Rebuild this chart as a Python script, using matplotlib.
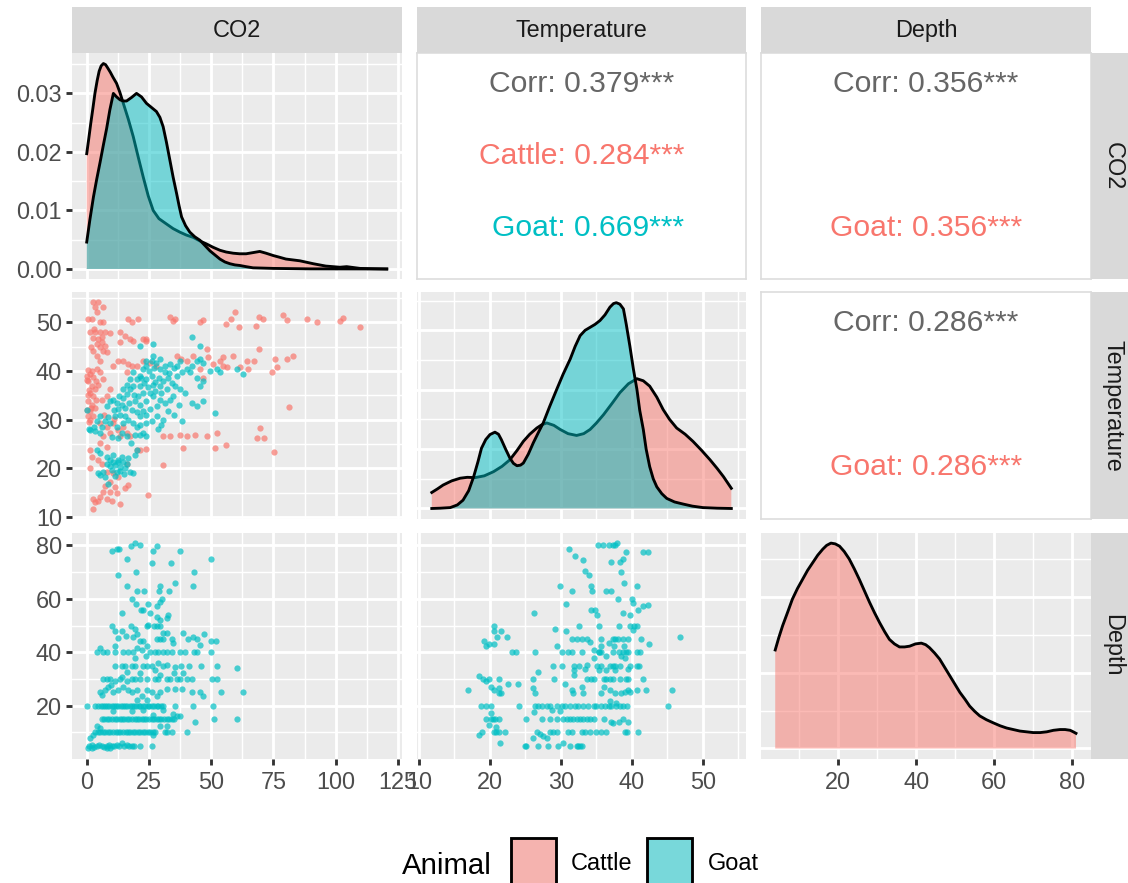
import matplotlib
matplotlib.use("Agg")
import matplotlib.pyplot as plt
from matplotlib.patches import Rectangle

W, H, DPI = 1128, 883, 192
plt.rcParams['font.family'] = ['Liberation Sans', 'DejaVu Sans']

# ---------------- data ----------------
variables = ["CO2", "Temperature", "Depth"]
groups = ["Cattle", "Goat"]
group_colors = {"Cattle": "#F8766D", "Goat": "#00BFC4"}

# diagonal densities (x, density)
co2_x_cattle = [0, 0.8, 1.6, 2.5, 3.3, 4.2, 5, 5.8, 6.7, 7.6, 8.5, 9.5, 10.5, 12, 13.3, 14.7,
                16.7, 18.7, 20.7, 22.7, 24.7, 26.7, 29, 32, 34.7, 37.4, 40, 42.8, 45.4, 48,
                50.8, 53.5, 56, 58.8, 61.4, 64, 66.8, 69.5, 72, 74.9, 77.5, 80, 85.6, 91, 96,
                101.7, 104.4, 109.8, 115, 120.5]
co2_d_cattle = [0.0197, 0.0222, 0.0248, 0.0275, 0.0300, 0.0322, 0.0338, 0.0347, 0.0351, 0.0349,
                0.0343, 0.0336, 0.0328, 0.0317, 0.0302, 0.0283, 0.0256, 0.0226, 0.0191, 0.0157,
                0.0125, 0.0100, 0.0086, 0.0077, 0.0069, 0.0063, 0.0058, 0.0054, 0.0048, 0.0043,
                0.0037, 0.0032, 0.0029, 0.0027, 0.0026, 0.0026, 0.0028, 0.0030, 0.0027, 0.0023,
                0.0020, 0.0017, 0.0014, 0.0009, 0.0005, 0.0003, 0.0004, 0.0001, 0.00005, 0.0]
co2_x_goat = [0, 1.3, 2.7, 4, 5.4, 6.7, 8, 9.3, 10.7, 12, 13.4, 14.7, 16, 18, 20, 22, 24, 26,
              28, 29.4, 30.7, 32, 33.4, 34.7, 36.1, 37.1, 38.1, 39.7, 41.4, 43.4, 45.5, 47.5,
              49.5, 51.5, 53.5, 55.5, 57.5, 59.5, 61.5, 64, 66.8, 75, 90, 120.5]
co2_d_goat = [0.0046, 0.0085, 0.0123, 0.0153, 0.0183, 0.0212, 0.0240, 0.0272, 0.0300, 0.0294,
              0.0289, 0.0287, 0.0287, 0.0293, 0.0300, 0.0294, 0.0283, 0.0276, 0.0269, 0.0259,
              0.0243, 0.0217, 0.0186, 0.0157, 0.0129, 0.0108, 0.0089, 0.0074, 0.0063, 0.0055,
              0.0049, 0.0040, 0.0031, 0.0024, 0.0017, 0.0012, 0.0009, 0.0007, 0.0006, 0.0004,
              0.0002, 0.0001, 0.00002, 0.0]

temp_x_cattle = [11.8, 12.6, 13.4, 14.6, 15.8, 16.8, 17.9, 19.2, 20.5, 21.7, 22.8, 23.8, 24.7,
                 25.6, 26.6, 27.3, 28, 29, 29.9, 31, 32.2, 33.2, 34.1, 35, 36, 37.2, 38.3, 39.5,
                 40.7, 41.6, 42.5, 43.5, 44.4, 45.3, 46.3, 47.5, 48.6, 49.8, 51, 52, 52.9, 54]
temp_d_cattle = [0.0054, 0.0066, 0.0079, 0.0093, 0.0102, 0.0105, 0.0104, 0.0110, 0.0124, 0.0142,
                 0.0164, 0.0195, 0.0226, 0.0250, 0.0271, 0.0282, 0.0288, 0.0280, 0.0266, 0.0252,
                 0.0246, 0.0252, 0.0266, 0.0288, 0.0316, 0.0354, 0.0390, 0.0420, 0.0437, 0.0430,
                 0.0412, 0.0375, 0.0333, 0.0300, 0.0271, 0.0250, 0.0226, 0.0196, 0.0164, 0.0135,
                 0.0107, 0.0068]
temp_x_goat = [11.8, 13, 14.4, 15.4, 16.2, 17, 17.7, 18.3, 18.8, 19.4, 20, 20.7, 21.2, 21.6,
               22.2, 22.8, 23.3, 23.8, 24.3, 24.7, 25.4, 26.1, 26.8, 27.5, 28.4, 29.4, 30.3,
               31.3, 32, 32.7, 33.4, 34.1, 34.8, 35.5, 36.2, 36.9, 37.4, 37.8, 38.3, 38.8, 39.2,
               39.7, 40.2, 40.7, 41.1, 41.6, 42, 42.5, 43, 43.5, 44.2, 44.9, 46, 47.2, 48.5,
               50, 52, 54]
temp_d_goat = [0.0, 0.0001, 0.0003, 0.0012, 0.0028, 0.0060, 0.0107, 0.0157, 0.0203, 0.0232,
               0.0249, 0.0257, 0.0250, 0.0232, 0.0200, 0.0170, 0.0152, 0.0144, 0.0146, 0.0153,
               0.0183, 0.0221, 0.0255, 0.0288, 0.0343, 0.0401, 0.0452, 0.0503, 0.0546, 0.0582,
               0.0600, 0.0610, 0.0620, 0.0633, 0.0652, 0.0678, 0.0690, 0.0693, 0.0688, 0.0672,
               0.0620, 0.0548, 0.0470, 0.0401, 0.0330, 0.0266, 0.0200, 0.0141, 0.0100, 0.0073,
               0.0050, 0.0034, 0.0022, 0.0015, 0.0008, 0.0003, 0.0001, 0.0]

depth_x = [3.8, 4.7, 5.7, 7, 8.2, 9.5, 10.8, 12.1, 13.4, 14.7, 16, 17, 18.1, 19.2, 20.3, 21.5,
           22.8, 24.1, 25.4, 26.7, 28, 29.3, 30.6, 31.9, 33.1, 34.4, 35.7, 37, 38.3, 39.8, 41.3,
           42.4, 43.4, 44.7, 46, 47.3, 48.6, 49.9, 51.2, 52.5, 53.7, 55, 56.3, 58, 59.7, 61.5,
           63.2, 64.9, 66.6, 68.3, 70, 71.8, 73.5, 75.2, 76.9, 78.2, 79.5, 80.3, 81]
depth_d = [0.0130, 0.0146, 0.0162, 0.0180, 0.0197, 0.0211, 0.0223, 0.0235, 0.0245, 0.0255,
           0.0263, 0.0268, 0.0271, 0.0270, 0.0267, 0.0260, 0.0250, 0.0237, 0.0223, 0.0208,
           0.0193, 0.0179, 0.0166, 0.0154, 0.0144, 0.0138, 0.0134, 0.0134, 0.0135, 0.0138,
           0.0139, 0.0137, 0.0133, 0.0126, 0.0118, 0.0107, 0.0096, 0.0085, 0.0074, 0.0065,
           0.0056, 0.0049, 0.0043, 0.0038, 0.0034, 0.0030, 0.0027, 0.0025, 0.0023, 0.0022,
           0.0021, 0.0021, 0.0022, 0.0024, 0.0025, 0.0025, 0.0024, 0.0022, 0.0020]

# scatter: CO2 vs Temperature
cattle_co2_temp = [
    (2.7, 54.1), (4.7, 54.1), (3.3, 53.1), (6.7, 53.1), (4.0, 52.1), (0.7, 50.6), (2.0, 50.6),
    (5.4, 50.0), (6.7, 50.0), (1.3, 47.9), (3.3, 47.9), (5.4, 47.9), (7.4, 47.9), (9.4, 47.8),
    (2.7, 46.7), (4.7, 46.6), (6.0, 45.9), (4.0, 45.5), (5.4, 44.8), (2.7, 44.1), (6.7, 44.1),
    (8.0, 43.8), (4.0, 43.1), (5.4, 42.1), (3.0, 48.5), (6.2, 47.0), (1.8, 45.0), (7.5, 45.2),
    (13.4, 47.9), (15.4, 47.2), (17.4, 46.6), (18.7, 46.2), (16.7, 50.7), (18.1, 50.0),
    (20.7, 50.6), (23.7, 46.2), (13.4, 45.9),
    (0.0, 39.0), (1.3, 39.3), (2.7, 38.8), (0.7, 37.9), (2.0, 36.9), (3.3, 36.2), (1.3, 35.5),
    (2.7, 34.8), (0.7, 33.8), (2.0, 33.1), (3.3, 32.4), (1.3, 31.7), (0.7, 30.7), (2.7, 30.7),
    (0.3, 38.2), (1.0, 36.0), (0.5, 35.0), (1.8, 32.5), (0.2, 32.0), (1.5, 30.0), (0.8, 29.5),
    (3.8, 38.0), (2.3, 40.0), (0.4, 40.2), (3.6, 34.0),
    (4.0, 40.3), (5.4, 39.7), (6.7, 38.3), (4.7, 37.2), (6.0, 34.1), (8.0, 34.8), (9.4, 36.2),
    (10.7, 41.0), (12.7, 42.1), (14.7, 42.1), (16.4, 41.4), (18.0, 41.0), (20.0, 41.0),
    (22.8, 42.1), (25.4, 41.7), (28.0, 41.0), (16.0, 39.7),
    (5.4, 29.3), (8.0, 28.6), (10.7, 29.3), (12.7, 27.9), (14.7, 28.6), (16.0, 27.2), (9.4, 27.2),
    (6.7, 26.6), (13.4, 26.6), (17.4, 26.6), (5.4, 25.2), (8.0, 24.5), (11.0, 30.2), (7.0, 31.0),
    (1.3, 23.8), (2.0, 22.4), (1.3, 20.0), (4.7, 21.7), (6.0, 21.0), (8.0, 19.3), (10.7, 19.0),
    (12.7, 18.3), (9.4, 17.2), (11.4, 16.2), (9.4, 15.2), (6.7, 15.2), (5.4, 14.1), (2.7, 13.8),
    (3.3, 13.1), (4.7, 13.4), (8.0, 13.8), (10.0, 13.4), (13.4, 12.8), (2.7, 11.7), (15.4, 15.9),
    (16.7, 16.6), (20.0, 23.8), (21.4, 23.8), (23.8, 23.9), (24.8, 14.5), (30.5, 20.7),
    (16.0, 21.0), (7.2, 16.5), (12.0, 15.0),
    (33.5, 51.0), (34.8, 50.3), (35.5, 50.6), (45.5, 50.0), (46.9, 50.5), (55.8, 49.7),
    (57.8, 50.6), (59.7, 52.1), (61.0, 49.0), (68.0, 49.3), (69.3, 51.0), (70.7, 50.6),
    (78.9, 51.4), (80.3, 50.5), (88.4, 50.7), (92.4, 50.0), (101.7, 50.2), (103.0, 50.8),
    (109.8, 49.0),
    (22.8, 46.6), (24.0, 46.6), (36.1, 43.1), (38.0, 42.4), (40.2, 42.1), (42.8, 43.1),
    (48.2, 44.5), (48.9, 42.8), (53.5, 42.1), (54.9, 42.8), (58.9, 43.1), (64.3, 42.1),
    (67.0, 42.1), (69.0, 44.5), (75.6, 42.4), (76.3, 40.7), (80.3, 42.4), (83.0, 43.1),
    (61.6, 40.7), (64.9, 40.3), (50.9, 41.4), (54.9, 41.0), (56.2, 40.7), (45.5, 40.3),
    (74.3, 39.7), (46.9, 38.6), (81.4, 32.6),
    (30.8, 26.6), (33.5, 26.7), (37.5, 26.9), (40.2, 26.6), (43.5, 26.8), (48.2, 26.7),
    (52.2, 27.2), (38.8, 24.1), (51.5, 24.1), (56.0, 24.8), (68.3, 26.2), (69.6, 28.3),
    (71.0, 26.2), (75.2, 23.3),
]
goat_co2_temp = [
    (4.0, 23.8), (5.4, 23.1), (4.7, 19.0), (6.7, 19.3), (8.0, 21.0), (9.4, 21.7), (10.7, 21.4),
    (11.4, 20.7), (12.7, 21.4), (13.4, 20.3), (14.7, 21.4), (16.0, 21.0), (15.4, 20.0),
    (17.4, 19.3), (18.7, 19.1), (8.0, 22.4), (10.0, 19.7), (12.0, 19.3), (14.0, 22.4),
    (16.7, 22.1), (10.7, 22.8), (7.4, 18.3), (8.7, 16.9), (5.4, 18.6), (19.3, 22.8), (20.0, 23.8),
    (12.5, 21.8), (11.5, 18.5), (15.0, 18.8), (13.5, 19.5), (9.5, 20.5),
    (0.0, 31.9), (1.3, 27.9), (3.3, 27.6), (5.4, 27.2), (4.0, 29.7), (5.4, 30.7), (8.0, 32.8),
    (9.4, 33.8), (10.7, 34.1), (12.0, 33.4), (12.7, 32.1), (14.0, 33.1), (14.7, 34.5),
    (16.0, 35.2), (13.4, 31.0), (15.4, 30.7), (11.4, 30.7), (9.4, 29.3), (7.4, 29.7),
    (12.0, 28.6), (14.7, 29.3), (16.7, 30.0), (18.7, 29.3), (20.0, 28.6), (21.4, 29.0),
    (24.0, 29.3), (26.1, 29.7), (38.2, 29.7), (30.8, 30.0), (21.4, 26.9), (22.8, 27.2),
    (19.4, 26.9), (17.6, 25.2), (16.0, 26.6), (14.0, 27.2), (12.7, 26.2), (24.0, 26.6),
    (17.4, 36.2), (18.7, 36.9), (20.0, 38.3), (21.4, 39.0), (22.8, 40.3), (24.0, 41.0),
    (26.1, 42.1), (28.0, 41.7), (29.4, 40.3), (31.5, 39.7), (32.8, 38.6), (34.1, 37.6),
    (35.5, 36.9), (37.5, 36.2), (39.5, 35.5), (32.1, 36.2), (29.4, 36.9), (26.8, 37.2),
    (24.8, 36.6), (22.8, 35.5), (20.7, 34.8), (19.4, 33.8), (21.4, 33.1), (24.0, 33.8),
    (26.8, 34.8), (29.4, 34.1), (31.5, 33.4), (33.5, 34.1), (28.1, 32.8), (25.4, 32.1),
    (22.8, 31.7), (21.4, 30.7), (24.0, 31.0), (28.1, 30.7), (34.8, 34.8), (36.1, 39.0),
    (38.2, 39.7), (40.2, 40.3), (42.2, 41.0), (44.2, 42.1), (41.6, 39.7), (44.2, 38.6),
    (45.5, 36.9), (46.9, 37.9), (49.4, 40.0), (52.2, 40.3), (53.5, 39.7), (60.2, 40.3),
    (62.7, 39.3), (42.2, 33.4), (44.2, 32.8), (46.9, 33.8), (51.5, 31.4), (42.2, 46.9),
    (45.5, 45.2), (26.8, 45.5), (21.4, 45.2), (24.0, 42.1), (26.8, 43.1), (29.4, 42.4),
    (31.5, 41.0), (33.5, 41.4), (18.7, 39.7), (17.4, 38.3), (16.0, 37.2), (14.7, 36.2),
    (26.1, 39.0), (29.0, 38.6), (24.0, 38.3), (21.4, 36.9), (27.4, 35.9), (36.1, 41.0),
    (37.5, 42.1), (46.9, 41.7), (45.5, 42.4),
    (19.0, 35.0), (23.0, 37.5), (25.5, 35.5), (27.5, 37.8), (30.0, 35.5), (18.0, 32.0),
    (20.0, 31.5), (22.0, 38.5), (25.0, 40.0), (27.0, 40.5), (30.5, 38.0), (33.0, 39.5),
    (35.0, 40.5), (17.0, 33.5), (15.5, 32.5), (13.0, 34.8), (11.0, 32.0), (8.5, 30.5),
    (6.0, 28.5), (3.0, 28.5), (1.0, 28.0), (10.0, 26.5), (30.0, 29.0), (35.0, 31.0),
    (32.5, 31.8), (37.0, 33.0), (28.5, 28.0),
]

# scatter: CO2 vs Depth (goat only)
goat_co2_depth = [
    (10.0, 77.8), (12.0, 78.6), (13.0, 78.6), (16.0, 74.9), (17.7, 79.9), (19.4, 80.9),
    (21.2, 80.3), (28.4, 79.9), (26.8, 77.8), (26.1, 73.6), (33.7, 73.6), (37.5, 77.8),
    (49.8, 74.9), (12.7, 69.0), (19.7, 69.9), (43.1, 69.9), (35.5, 65.9), (42.6, 64.9),
    (16.0, 64.9), (20.0, 63.0), (23.0, 63.0), (29.2, 63.0), (33.2, 63.0), (29.4, 64.9),
    (14.3, 54.9), (18.2, 59.9), (19.8, 58.0), (24.8, 58.0), (28.1, 57.2), (29.4, 58.7),
    (30.1, 59.9), (21.7, 56.0), (22.8, 56.0), (25.4, 54.9), (28.1, 53.2), (32.1, 52.8),
    (32.8, 54.0), (29.4, 52.2), (10.0, 49.7), (11.4, 48.1), (14.0, 48.1), (17.9, 49.7),
    (19.3, 48.7), (20.0, 46.8), (24.1, 49.7), (24.8, 50.3), (27.0, 49.7), (28.1, 49.7),
    (29.4, 49.7), (30.8, 47.2), (32.1, 47.2), (12.7, 45.3), (15.8, 46.2), (18.7, 45.9),
    (21.4, 44.3), (22.5, 44.3), (24.1, 42.2), (28.1, 45.0), (29.4, 45.0), (30.8, 45.0),
    (34.1, 45.0), (34.8, 43.5), (38.8, 47.2), (40.8, 45.0), (42.6, 45.7), (44.2, 45.0),
    (47.1, 46.8), (49.8, 44.1), (51.9, 44.1), (45.5, 42.8),
    (4.0, 40.0), (5.4, 41.8), (6.7, 40.0), (8.3, 40.0), (11.4, 40.0), (14.7, 40.0), (16.7, 40.0),
    (18.7, 40.0), (20.1, 41.6), (22.1, 40.9), (23.7, 38.7), (25.4, 40.0), (27.4, 40.0),
    (28.8, 40.0), (30.8, 40.0), (32.1, 40.0), (34.1, 40.0), (37.5, 40.0), (39.5, 40.0),
    (43.2, 40.0), (44.2, 40.0), (49.8, 40.0), (19.4, 37.8), (11.4, 42.2),
    (11.4, 35.0), (14.0, 35.0), (15.4, 35.0), (18.1, 35.0), (19.4, 35.0), (22.8, 35.0),
    (24.1, 35.0), (26.1, 35.0), (28.8, 36.0), (30.8, 35.0), (32.1, 35.3), (35.5, 34.4),
    (37.9, 35.0), (41.1, 35.0), (45.9, 35.0), (52.4, 35.0), (60.5, 34.1), (16.1, 32.8),
    (21.4, 32.2), (27.4, 33.4), (14.0, 30.9), (29.4, 31.6), (34.9, 32.2), (38.8, 32.2),
    (6.7, 30.0), (8.0, 30.0), (9.4, 30.0), (11.4, 29.1), (13.4, 30.0), (16.0, 29.1), (18.1, 30.0),
    (19.4, 30.0), (21.2, 30.0), (24.1, 30.0), (27.4, 30.0), (28.8, 30.0), (32.1, 30.0),
    (33.5, 30.0), (36.1, 30.0), (37.5, 30.0), (40.2, 30.0), (42.2, 30.0), (50.5, 30.0),
    (52.4, 30.0),
    (5.4, 25.0), (7.4, 26.0), (8.7, 27.2), (10.7, 25.0), (12.7, 26.0), (14.7, 27.2), (16.7, 26.0),
    (18.1, 25.0), (20.0, 26.0), (22.1, 23.5), (24.1, 26.0), (26.1, 25.0), (28.1, 23.5),
    (29.4, 25.3), (32.1, 26.2), (35.5, 26.2), (38.2, 26.2), (42.2, 25.0), (45.5, 25.0),
    (46.6, 23.7), (53.8, 25.0), (62.7, 25.0), (9.6, 27.8), (6.3, 24.2),
    (0.0, 20.0), (3.3, 20.0), (4.7, 20.0), (5.6, 20.0), (6.5, 20.0), (7.2, 20.0), (8.3, 20.0),
    (9.0, 20.0), (10.1, 20.0), (10.8, 20.0), (11.9, 20.0), (12.6, 20.0), (13.7, 20.0),
    (14.4, 20.0), (15.5, 20.0), (16.2, 20.0), (17.3, 20.0), (18.0, 20.0), (19.1, 20.0),
    (19.8, 20.0), (20.9, 20.0), (21.6, 20.0), (22.7, 20.0), (23.4, 20.0), (24.5, 20.0),
    (25.2, 20.0), (26.3, 20.0), (27.0, 20.0), (28.1, 20.0), (28.8, 20.0), (29.9, 20.0),
    (30.6, 20.0), (35.5, 20.0), (42.6, 20.0), (50.6, 20.0),
    (20.0, 22.2), (24.1, 22.2), (10.7, 17.9), (18.1, 17.9), (22.8, 18.5), (26.8, 16.6),
    (30.8, 18.5), (34.8, 17.0), (36.1, 16.0),
    (6.2, 15.0), (7.0, 15.0), (8.1, 15.0), (9.0, 15.0), (10.1, 15.0), (11.2, 15.0), (12.0, 15.0),
    (13.2, 15.0), (14.1, 15.0), (15.0, 15.0), (16.2, 15.0), (17.1, 15.0), (18.0, 15.0),
    (19.2, 15.0), (20.1, 15.0), (21.0, 15.0), (22.2, 15.0), (23.1, 15.0), (24.0, 15.0),
    (25.2, 15.0), (26.1, 15.0), (27.0, 15.0), (28.2, 15.0), (29.1, 15.0), (30.0, 15.0),
    (31.2, 15.0), (32.1, 15.0), (33.0, 15.0), (34.2, 15.0), (35.1, 15.0), (37.5, 16.0),
    (43.5, 14.1), (51.3, 15.0), (60.5, 15.0),
    (4.0, 12.3), (5.4, 11.6), (29.4, 12.3), (32.1, 12.3),
    (3.3, 10.0), (4.5, 10.0), (5.4, 10.0), (6.5, 10.0), (7.4, 10.0), (8.5, 10.0), (9.4, 10.0),
    (10.5, 10.0), (11.6, 10.0), (12.7, 10.0), (13.4, 10.0), (14.5, 10.0), (15.6, 10.0),
    (16.5, 10.0), (17.5, 10.0), (18.6, 10.0), (19.5, 10.0), (20.5, 10.0), (21.6, 10.0),
    (22.5, 10.0), (23.5, 10.0), (24.6, 10.0), (25.5, 10.0), (26.5, 10.0), (27.4, 10.0),
    (31.3, 10.0), (32.1, 10.0), (34.2, 10.0), (40.4, 10.0),
    (1.3, 7.9), (2.7, 9.1), (26.8, 9.1),
    (1.1, 5.0), (2.0, 5.5), (3.1, 4.5), (4.0, 5.0), (5.1, 5.5), (6.0, 5.0), (6.8, 4.5), (8.0, 5.0),
    (9.1, 5.5), (10.0, 5.0), (11.1, 5.0), (12.0, 5.5), (13.1, 5.0), (14.1, 6.0), (15.0, 5.0),
    (16.1, 5.5), (17.1, 5.0), (18.1, 5.0), (19.1, 5.0), (21.4, 5.0), (26.1, 5.0),
    (0.7, 4.2), (2.0, 4.2), (8.0, 4.2), (9.4, 4.2),
]

# scatter: Temperature vs Depth (goat only)
goat_temp_depth = [
    (31.2, 78.6), (32.0, 76.1), (33.1, 74.6), (35.2, 80.0), (35.9, 80.0), (36.7, 80.0),
    (37.3, 80.0), (37.6, 80.2), (37.9, 80.9), (37.1, 73.8), (38.3, 73.8), (38.7, 74.9),
    (39.2, 77.5), (41.6, 77.5), (42.3, 77.5), (33.4, 70.3), (33.9, 69.0), (38.4, 69.9),
    (29.8, 64.9), (31.6, 62.8), (34.2, 64.9), (34.4, 62.8), (36.3, 62.8), (37.1, 62.8),
    (38.9, 65.9), (40.7, 64.9), (38.1, 59.9), (40.0, 59.9), (40.2, 58.4), (41.5, 57.4),
    (42.2, 57.8), (40.9, 55.9), (30.7, 58.2), (26.2, 54.9), (34.2, 55.9), (34.8, 55.9),
    (38.8, 54.9), (39.7, 54.0), (35.1, 54.0), (35.4, 49.7), (32.6, 49.7), (29.1, 48.7),
    (30.7, 48.1), (39.7, 49.7), (40.3, 49.7), (40.7, 49.7), (40.1, 48.4), (38.2, 49.7),
    (20.6, 49.7), (20.5, 47.8), (21.6, 47.8), (21.0, 45.9), (22.4, 45.9), (19.1, 44.3),
    (19.5, 42.2), (19.8, 43.2), (20.6, 43.1), (46.8, 45.9),
    (31.5, 45.0), (32.2, 45.0), (32.9, 45.0), (33.6, 45.0), (34.1, 43.7), (35.7, 45.0),
    (37.3, 45.0), (37.6, 45.0), (38.1, 45.0), (38.8, 45.0), (39.5, 45.0), (41.3, 45.0),
    (36.8, 43.5), (37.5, 42.2), (38.9, 42.4), (42.4, 43.1), (29.4, 42.2), (34.6, 41.0),
    (35.3, 40.3), (35.7, 42.2),
    (23.1, 40.0), (23.7, 40.0), (26.3, 40.0), (30.1, 40.0), (31.0, 40.0), (31.5, 40.0),
    (32.9, 40.0), (35.3, 40.0), (35.7, 40.0), (37.4, 40.0), (38.2, 40.0), (38.8, 40.0),
    (39.2, 40.0), (39.5, 40.0), (40.7, 40.0), (41.1, 40.0), (34.6, 37.8), (36.4, 38.5),
    (38.5, 38.5), (39.0, 37.8),
    (28.9, 35.0), (30.2, 35.0), (31.9, 35.0), (32.6, 35.0), (33.6, 35.3), (35.1, 35.0),
    (35.7, 35.0), (36.9, 35.0), (37.3, 35.0), (37.6, 35.0), (38.3, 35.0), (39.7, 35.0),
    (40.7, 35.0), (41.0, 35.0), (26.7, 32.8), (31.8, 33.4), (33.4, 33.7), (35.3, 33.4),
    (36.4, 33.4), (37.6, 33.4), (39.5, 33.7), (31.8, 31.6),
    (18.4, 31.0), (19.0, 30.0), (19.9, 30.0), (21.2, 30.0), (24.0, 28.1), (26.1, 30.0),
    (29.0, 30.0), (33.6, 30.0), (34.3, 30.0), (34.7, 30.0), (36.0, 30.0), (36.4, 30.0),
    (36.9, 30.0), (37.4, 30.0), (38.3, 30.0), (39.2, 30.0), (39.5, 30.0), (41.5, 30.0),
    (19.5, 29.1), (20.1, 27.2), (20.6, 26.0), (21.2, 24.7), (21.6, 24.7), (22.6, 28.2),
    (21.3, 26.6), (16.9, 26.0), (26.1, 26.6), (26.3, 24.7), (30.6, 28.2), (31.5, 26.0),
    (32.9, 27.2), (36.0, 27.2), (36.9, 26.0), (37.6, 24.7), (38.4, 24.7), (39.0, 25.0),
    (39.5, 26.0), (39.7, 25.0), (40.7, 26.0), (42.0, 26.0), (45.7, 26.0), (31.7, 24.7),
    (33.1, 24.7), (35.6, 24.7),
    (18.7, 20.0), (19.5, 20.0), (20.1, 20.0), (24.1, 20.0), (26.3, 20.0), (26.8, 20.0),
    (27.3, 20.0), (28.0, 20.0), (28.5, 20.0), (29.4, 20.0), (30.1, 20.0), (30.6, 20.0),
    (31.3, 20.0), (32.0, 20.0), (32.4, 20.0), (33.1, 20.0), (33.8, 20.0), (34.6, 20.0),
    (35.0, 20.0), (35.7, 20.0), (36.2, 20.0), (36.7, 20.0), (37.1, 20.0), (37.7, 20.0),
    (38.3, 20.0), (38.8, 20.0), (39.3, 20.0), (45.1, 20.0), (37.8, 21.0), (36.9, 21.6),
    (28.8, 18.5), (29.9, 17.9), (26.2, 17.5), (20.1, 17.3), (20.4, 15.0),
    (19.5, 15.0), (20.2, 15.0), (20.7, 15.0), (21.2, 15.0), (25.1, 15.0), (27.3, 15.0),
    (28.5, 15.0), (29.4, 15.0), (30.3, 15.0), (30.8, 15.0), (31.3, 15.0), (31.7, 15.0),
    (32.2, 15.0), (32.7, 15.0), (33.1, 15.0), (33.6, 15.0), (34.1, 15.0), (34.6, 15.0),
    (36.0, 15.0), (37.1, 14.1), (37.4, 13.5), (38.2, 14.1), (38.8, 15.0), (39.5, 13.8),
    (19.9, 12.9), (20.8, 12.0),
    (18.4, 9.1), (18.9, 10.0), (20.5, 10.0), (20.8, 10.0), (21.2, 10.0), (22.1, 10.0),
    (21.4, 6.0), (26.6, 10.0), (27.0, 9.5), (27.5, 8.8), (28.0, 7.9), (28.5, 10.0), (28.9, 10.0),
    (29.4, 10.0), (31.0, 10.0), (31.5, 10.0), (32.9, 10.0), (33.4, 10.0), (34.1, 10.0),
    (35.0, 10.0), (35.7, 10.0), (36.4, 10.0), (39.0, 10.0), (39.3, 10.0), (40.8, 10.0),
    (26.0, 7.9),
    (24.9, 5.0), (25.1, 5.0), (26.7, 5.0), (28.2, 5.0), (29.6, 5.0), (31.3, 5.0), (32.2, 5.0),
    (32.4, 5.0), (32.7, 5.0), (32.9, 5.0), (30.3, 6.0),
]

corr_overall = {(0, 1): "Corr: 0.379***", (0, 2): "Corr: 0.356***", (1, 2): "Corr: 0.286***"}
corr_groups = {
    (0, 1): [("Cattle: 0.284***", "#F8766D", 0), ("Goat: 0.669***", "#00BFC4", 1)],
    (0, 2): [("Goat: 0.356***", "#F8766D", 1)],
    (1, 2): [("Goat: 0.286***", "#F8766D", 1)],
}

# ---------------- layout ----------------
fig = plt.figure(figsize=(W / DPI, H / DPI), dpi=DPI)
fig.patch.set_facecolor("white")

col_x = [(71.7, 401.7), (416.8, 746.3), (761.0, 1091.0)]
row_y = [(53.0, 279.3), (292.3, 518.8), (532.5, 758.8)]

var_lim = {"CO2": (-6.03, 126.5), "Temperature": (9.69, 56.11), "Depth": (0.15, 84.85)}
var_major = {"CO2": [0, 25, 50, 75, 100, 125], "Temperature": [10, 20, 30, 40, 50],
             "Depth": [20, 40, 60, 80]}
var_minor = {"CO2": [12.5, 37.5, 62.5, 87.5, 112.5], "Temperature": [15, 25, 35, 45, 55],
             "Depth": [10, 30, 50, 70]}
dens_lim = [(-0.00176, 0.0369), (-0.00347, 0.0728), (-0.00136, 0.0285)]
dens_major = [[0, 0.01, 0.02, 0.03], [0, 0.02, 0.04, 0.06], [0, 0.01, 0.02]]
dens_minor = [[0.005, 0.015, 0.025, 0.035], [0.01, 0.03, 0.05, 0.07], [0.005, 0.015, 0.025]]

PANEL_BG = "#EBEBEB"
TICK_COL = "#333333"
LABEL_COL = "#4D4D4D"
FS_AXIS = 8.8
LW_MAJOR = 1.07
LW_MINOR = 0.53


def fx(px):
    return px / W


def fy(py):
    return 1 - py / H


def make_ax(r, c):
    x0, x1 = col_x[c]
    y0, y1 = row_y[r]
    return fig.add_axes([fx(x0), fy(y1), (x1 - x0) / W, (y1 - y0) / H])


def style_grid(ax, xmaj, xmin, ymaj, ymin, show_x, show_y):
    ax.set_facecolor(PANEL_BG)
    for s in ax.spines.values():
        s.set_visible(False)
    ax.set_xticks(xmaj)
    ax.set_xticks(xmin, minor=True)
    ax.set_yticks(ymaj)
    ax.set_yticks(ymin, minor=True)
    ax.grid(which="major", color="white", linewidth=LW_MAJOR)
    ax.grid(which="minor", color="white", linewidth=LW_MINOR)
    ax.set_axisbelow(True)
    ax.tick_params(which="minor", length=0)
    ax.tick_params(axis="x", which="major", length=2.2 if show_x else 0, width=LW_MAJOR,
                   color=TICK_COL, labelcolor=LABEL_COL, labelsize=FS_AXIS, pad=2.2,
                   labelbottom=show_x)
    ax.tick_params(axis="y", which="major", length=2.2 if show_y else 0, width=LW_MAJOR,
                   color=TICK_COL, labelcolor=LABEL_COL, labelsize=FS_AXIS, pad=1.5,
                   labelleft=show_y)


def draw_density(ax, xs, ys, color, z):
    ax.fill_between(xs, 0, ys, facecolor=color, alpha=0.5, linewidth=0, zorder=z)
    ax.plot(xs, ys, color="black", linewidth=LW_MAJOR, zorder=z + 0.5,
            solid_joinstyle="round")


axes = {}
for r in range(3):
    for c in range(3):
        if c > r:
            continue
        ax = make_ax(r, c)
        axes[(r, c)] = ax
        vx = variables[c]
        if r == c:
            style_grid(ax, var_major[vx], var_minor[vx], dens_major[r], dens_minor[r],
                       r == 2, c == 0)
            ax.set_xlim(*var_lim[vx])
            ax.set_ylim(*dens_lim[r])
        else:
            vy = variables[r]
            style_grid(ax, var_major[vx], var_minor[vx], var_major[vy], var_minor[vy],
                       r == 2, c == 0)
            ax.set_xlim(*var_lim[vx])
            ax.set_ylim(*var_lim[vy])

# diagonal
draw_density(axes[(0, 0)], co2_x_cattle, co2_d_cattle, group_colors["Cattle"], 2)
draw_density(axes[(0, 0)], co2_x_goat, co2_d_goat, group_colors["Goat"], 3)
draw_density(axes[(1, 1)], temp_x_cattle, temp_d_cattle, group_colors["Cattle"], 2)
draw_density(axes[(1, 1)], temp_x_goat, temp_d_goat, group_colors["Goat"], 3)
draw_density(axes[(2, 2)], depth_x, depth_d, group_colors["Cattle"], 2)
axes[(0, 0)].yaxis.set_major_formatter(plt.FuncFormatter(lambda v, p: f"{v:.2f}"))

# scatter panels
PT = dict(s=5.5, linewidths=0, alpha=0.7, zorder=3)
cx, cy = zip(*cattle_co2_temp)
gx, gy = zip(*goat_co2_temp)
axes[(1, 0)].scatter(cx, cy, color=group_colors["Cattle"], **PT)
axes[(1, 0)].scatter(gx, gy, color=group_colors["Goat"], **PT)
dx, dy = zip(*goat_co2_depth)
axes[(2, 0)].scatter(dx, dy, color=group_colors["Goat"], **PT)
tx, ty = zip(*goat_temp_depth)
axes[(2, 1)].scatter(tx, ty, color=group_colors["Goat"], **PT)

# upper correlation panels
renderer = fig.canvas.get_renderer()
y_frac = [(0.05 + 0.55) / 1.1, (0.05 + 0.2) / 1.1]
for (r, c), txt in corr_overall.items():
    ax = make_ax(r, c)
    ax.set_facecolor("white")
    ax.set_xticks([])
    ax.set_yticks([])
    for s in ax.spines.values():
        s.set_color("#DCDCDC")
        s.set_linewidth(0.6)
    ax.text(0.5, (0.05 + 0.9) / 1.1, txt, transform=ax.transAxes, ha="center", va="center",
            fontsize=11.3, color="#666666")
    labels = corr_groups[(r, c)]
    # longest label centred, all group labels right aligned on its right edge
    tmp = [ax.text(0.5, 0.5, lab, fontsize=11.3, transform=ax.transAxes) for lab, _, _ in labels]
    widths = [t.get_window_extent(renderer).width for t in tmp]
    for t in tmp:
        t.remove()
    ax_w = ax.get_window_extent(renderer).width
    right = 0.5 + max(widths) / 2 / ax_w
    for lab, col, gi in labels:
        ax.text(right, y_frac[gi], lab, transform=ax.transAxes, ha="right", va="center",
                fontsize=11.3, color=col)

# strips
STRIP_BG = "#D9D9D9"
for c, name in enumerate(variables):
    x0, x1 = col_x[c]
    fig.add_artist(Rectangle((fx(x0), fy(53.0)), (x1 - x0) / W, (53.0 - 7.0) / H,
                             transform=fig.transFigure, facecolor=STRIP_BG, edgecolor="none"))
    fig.text(fx((x0 + x1) / 2), fy(30.5), name, ha="center", va="center", fontsize=FS_AXIS,
             color="#1A1A1A")
for r, name in enumerate(variables):
    y0, y1 = row_y[r]
    fig.add_artist(Rectangle((fx(1091.0), fy(y1)), 46 / W, (y1 - y0) / H,
                             transform=fig.transFigure, facecolor=STRIP_BG, edgecolor="none"))
    fig.text(fx(1113.0), fy((y0 + y1) / 2), name, ha="center", va="center", fontsize=FS_AXIS,
             color="#1A1A1A", rotation=-90)

# legend
fig.text(fx(402), fy(866), "Animal", ha="left", va="center", fontsize=11, color="black")
for lab, kx, tx_ in [("Cattle", 511, 571), ("Goat", 647, 708)]:
    fig.add_artist(Rectangle((fx(kx), fy(884)), 45 / W, 46 / H, transform=fig.transFigure,
                             facecolor="#F2F2F2", edgecolor="none"))
    col = matplotlib.colors.to_rgb(group_colors[lab])
    fig.add_artist(Rectangle((fx(kx), fy(884)), 45 / W, 46 / H, transform=fig.transFigure,
                             facecolor=(*col, 0.5), edgecolor="black", linewidth=LW_MAJOR))
    fig.text(fx(tx_), fy(864), lab, ha="left", va="center", fontsize=FS_AXIS, color="black")

fig.savefig("out.png", dpi=DPI, facecolor="white")
